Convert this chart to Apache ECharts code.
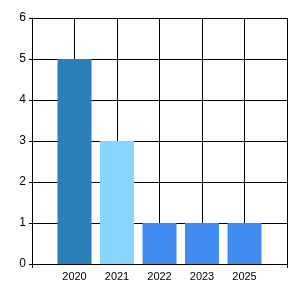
<!DOCTYPE html>
<html>
<head>
<meta charset="utf-8">
<script src="https://cdn.jsdelivr.net/npm/echarts@6/dist/echarts.min.js"></script>
<style>
  html, body { margin: 0; padding: 0; background: #fff; }
  #chart { width: 300px; height: 300px; }
</style>
</head>
<body>
<div id="chart"></div>
<script>
// data
const categories = ['2020', '2021', '2022', '2023', '2025'];
const counts = [5, 3, 1, 1, 1];
const barColors = ['#2980B9', '#87D5FE', '#418CF0', '#418CF0', '#418CF0'];
const yTicks = [0, 1, 2, 3, 4, 5, 6];

// axis has one empty slot on each side, bars sit on the inner ticks
const xData = [''].concat(categories, ['']);
const seriesData = ['-'].concat(
  counts.map((v, i) => ({ value: v, itemStyle: { color: barColors[i] } })),
  ['-']
);

const myChart = echarts.init(document.getElementById('chart'));

const labelFont = {
  color: '#000',
  fontFamily: 'Liberation Sans',
  fontSize: 11,
};

myChart.setOption({
  animation: false,
  grid: { left: 32, top: 18, right: 13, bottom: 36 },
  xAxis: {
    type: 'category',
    data: xData,
    boundaryGap: false,
    axisLine: { lineStyle: { color: '#000', width: 1 } },
    axisTick: {
      show: true,
      length: 4,
      interval: (idx) => idx === 0 || idx === xData.length - 1,
      lineStyle: { color: '#000' },
    },
    axisLabel: { ...labelFont, margin: 7, interval: 0 },
    splitLine: { show: true, lineStyle: { color: '#000', width: 1 } },
  },
  yAxis: {
    type: 'value',
    min: yTicks[0],
    max: yTicks[yTicks.length - 1],
    interval: 1,
    axisLine: { show: true, lineStyle: { color: '#000', width: 1 } },
    axisTick: { show: true, length: 3, lineStyle: { color: '#000' } },
    axisLabel: { ...labelFont, fontSize: 12, margin: 6 },
    splitLine: { show: true, lineStyle: { color: '#000', width: 1 } },
  },
  series: [
    {
      type: 'bar',
      data: seriesData,
      barWidth: 34,
    },
  ],
});
</script>
</body>
</html>
